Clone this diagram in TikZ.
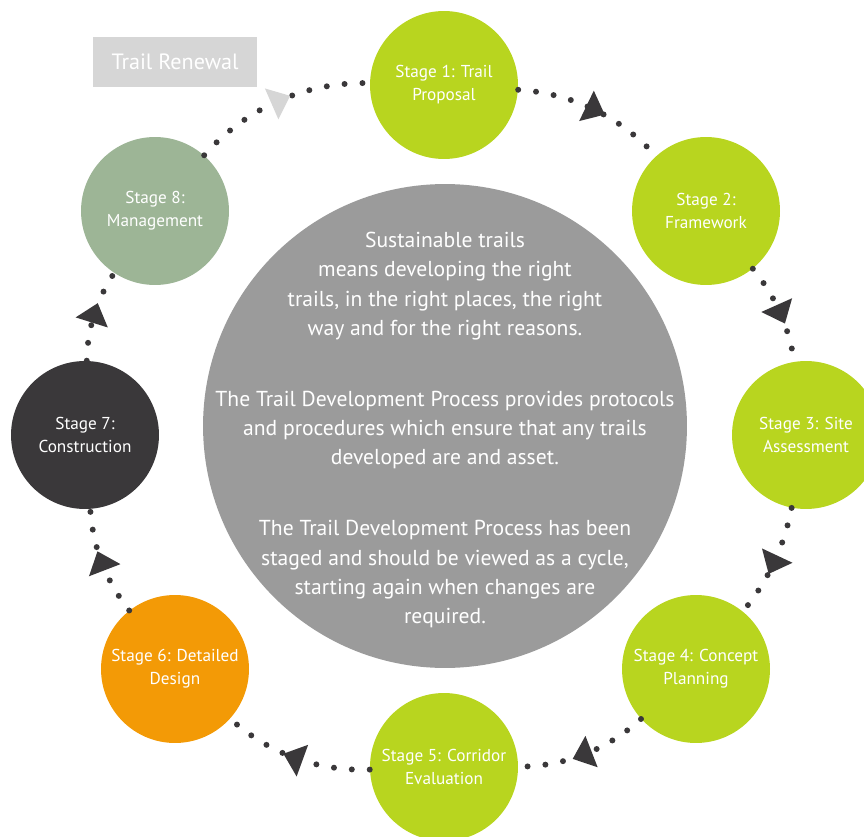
\documentclass[tikz,border=0pt]{standalone}
\usepackage{fontspec}
\setmainfont{PT Sans}
\usetikzlibrary{decorations.markings}
\definecolor{lime}{HTML}{B8D51F}
\definecolor{sage}{HTML}{9DB596}
\definecolor{charcoal}{HTML}{3A383A}
\definecolor{amber}{HTML}{F39A06}
\definecolor{stone}{HTML}{9B9B9B}
\definecolor{mist}{HTML}{D6D6D6}
\begin{document}
\begin{tikzpicture}[x=0.02cm, y=0.02cm,
  stage/.style={circle, minimum size=2.96cm, inner sep=0pt, text=white, align=center,
    font=\fontsize{9.8}{13}\selectfont},
  trail/.style={draw=charcoal, line width=3.4pt, line cap=round,
    dash pattern=on 0pt off 10.2pt, looseness=0.9},
  headed/.style={postaction={decorate, decoration={markings,
    mark=at position 0.5 with {\fill[#1] (7pt,0) -- (-4.5pt,9.6pt) -- (-4.5pt,-9.6pt) -- cycle;}}}},
  headed/.default=charcoal]
\useasboundingbox (0,0) rectangle (864,836);
\node (hub) [circle, fill=stone, minimum size=9.68cm, inner sep=0pt] at (445,410) {};
\node (about) [text=white, align=center, font=\fontsize{12.3}{16.7}\selectfont] at (445,406)
  {Sustainable trails\\ means developing the right\\ trails, in the right places, the right\\
   way and for the right reasons.\\[23.6pt]
   The Trail Development Process provides protocols\\ and procedures which ensure that any trails\\
   developed are and asset.\\[23.6pt]
   The Trail Development Process has been\\ staged and should be viewed as a cycle,\\
   starting again when changes are\\ required.};
\node (s1) [stage, fill=lime] at (444,751) {Stage 1: Trail\\ Proposal};
\node (s2) [stage, fill=lime] at (706,625) {Stage 2:\\ Framework};
\node (s3) [stage, fill=lime] at (806,401) {Stage 3: Site\\ Assessment};
\node (s4) [stage, fill=lime] at (696,167) {Stage 4: Concept\\ Planning};
\node (s5) [stage, fill=lime] at (444,69) {Stage 5: Corridor\\ Evaluation};
\node (s6) [stage, fill=amber] at (175,167) {Stage 6: Detailed\\ Design};
\node (s7) [stage, fill=charcoal] at (85,401) {Stage 7:\\ Construction};
\node (s8) [stage, fill=sage] at (155,625) {Stage 8:\\ Management};
\node (renewal) [fill=mist, text=white, minimum width=3.28cm, minimum height=1cm,
  font=\fontsize{12.6}{14}\selectfont] at (175,774) {Trail Renewal};
\draw [trail, headed] (s1) to[bend left=22] (s2);
\draw [trail, headed] (s2) to[bend left=15] (s3);
\draw [trail, headed] (s3) to[bend left=14] (s4);
\draw [trail, headed] (s4) to[bend left=21] (s5);
\draw [trail, headed] (s5) to[bend left=22] (s6);
\draw [trail, headed] (s6) to[bend left=17] (s7);
\draw [trail, headed] (s7) to[bend left=16] (s8);
\draw [trail, headed=mist] (s8) to[bend left=25] (s1);
\end{tikzpicture}
\end{document}
